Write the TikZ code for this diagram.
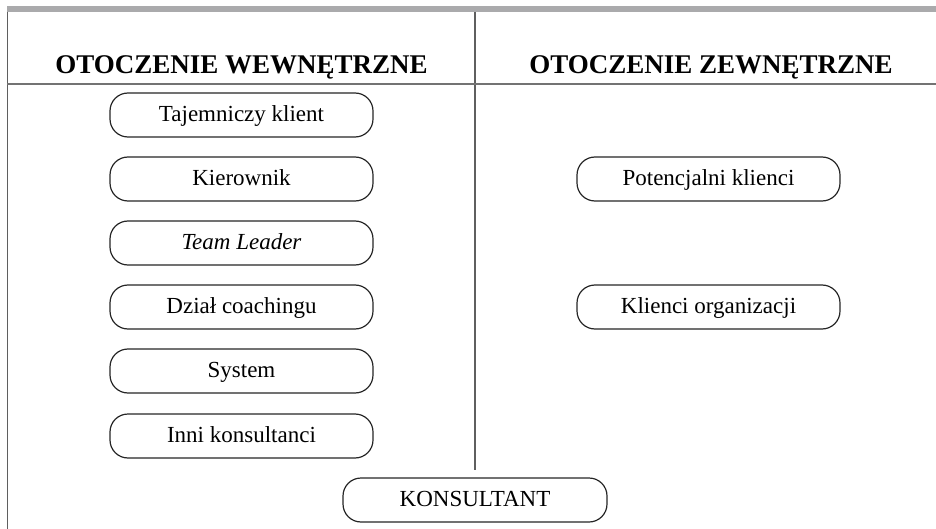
\documentclass[tikz,border=0pt]{standalone}
\usepackage{fontspec}
\setmainfont{Liberation Serif}
\usepackage{tikz}
\usetikzlibrary{positioning}
\definecolor{framegray}{RGB}{170,170,172}
\definecolor{linegray}{RGB}{95,95,95}
\tikzset{
  box/.style={draw=black!85,rounded corners=9pt,line width=0.6pt,fill=white,
              minimum width=131.5pt,minimum height=22pt,inner sep=2pt,
              text height=1.6ex,text depth=.2ex,
              font=\fontsize{11.5}{13}\selectfont},
  head/.style={anchor=base,inner sep=0pt,font=\fontsize{13.5}{16}\selectfont\bfseries}
}

\begin{document}
\begin{tikzpicture}[x=0.5pt,y=-0.5pt,rule/.style={line width=0.6pt,linegray}]
  \useasboundingbox (0,0) rectangle (936,529);
  \fill[framegray] (7,6) rectangle (936,12.5);
  \draw[rule] (7.5,12) -- (7.5,529);
  \draw[rule] (475,12) -- (475,470);
  \draw[rule,black!55] (7,84) -- (936,84);
  \node[head] (hin)  at (241.5,74) {OTOCZENIE WEWNĘTRZNE};
  \node[head] (hout) at (711,74)   {OTOCZENIE ZEWNĘTRZNE};
  \node[box] (tk) at (241.5,115) {Tajemniczy klient};
  \node[box] (ki) at (241.5,179) {Kierownik};
  \node[box] (tl) at (241.5,243) {\textit{Team Leader}};
  \node[box] (dc) at (241.5,307) {Dział coachingu};
  \node[box] (sy) at (241.5,371) {System};
  \node[box] (ik) at (241.5,436) {Inni konsultanci};
  \node[box] (pk) at (708.5,179) {Potencjalni klienci};
  \node[box] (ko) at (708.5,307) {Klienci organizacji};
  \node[box,minimum width=132pt] (kon) at (475,500) {KONSULTANT};
\end{tikzpicture}
\end{document}
